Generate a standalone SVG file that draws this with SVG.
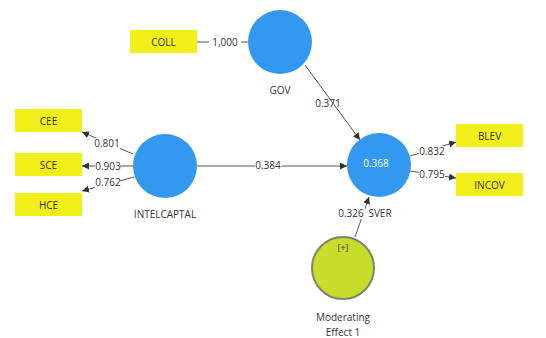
<svg xmlns="http://www.w3.org/2000/svg" width="546" height="338" viewBox="0 0 546 338">
<style>
.box{fill:#f2ee1a;}
.lv{fill:#3399f0;}
.t{font-family:"Open Sans","Liberation Sans",sans-serif;font-size:10px;fill:#333;text-anchor:middle;}
.lbl{font-family:"Open Sans","Liberation Sans",sans-serif;font-size:10px;fill:#333;text-anchor:middle;}
.ln{stroke:#555;stroke-width:1;fill:none;}
.bg{fill:#fff;}
</style>
<defs>
<marker id="ah" viewBox="0 0 10 10" refX="10" refY="5" markerWidth="7" markerHeight="7" orient="auto" markerUnits="userSpaceOnUse">
<path d="M0,0 L10,5 L0,10 z" fill="#333"/>
</marker>
</defs>
<rect width="546" height="338" fill="#fff"/>
<g id="connectors">
<line class="ln" x1="197" y1="42" x2="248" y2="42"/>
<rect class="bg" x="209" y="36" width="32" height="12"/>
<text class="lbl" x="225" y="46">1,000</text>
<line class="ln" x1="305" y1="65" x2="360" y2="140" marker-end="url(#ah)"/>
<text class="lbl" x="328" y="107">0.371</text>
<line class="ln" x1="133" y1="154" x2="82" y2="132" marker-end="url(#ah)"/>
<rect class="bg" x="95" y="138" width="25" height="11"/>
<text class="lbl" x="107" y="147">0.801</text>
<line class="ln" x1="133" y1="166" x2="82" y2="166" marker-end="url(#ah)"/>
<rect class="bg" x="95" y="161" width="25" height="11"/>
<text class="lbl" x="108" y="170">0.903</text>
<line class="ln" x1="134" y1="177" x2="82" y2="191" marker-end="url(#ah)"/>
<rect class="bg" x="95" y="177" width="25" height="11"/>
<text class="lbl" x="108" y="186">0.762</text>
<line class="ln" x1="197" y1="166" x2="347" y2="166" marker-end="url(#ah)"/>
<rect class="bg" x="255" y="160" width="27" height="11"/>
<text class="lbl" x="268" y="169">0.384</text>
<line class="ln" x1="410" y1="156" x2="456" y2="142" marker-end="url(#ah)"/>
<rect class="bg" x="419" y="146" width="26" height="11"/>
<text class="lbl" x="432" y="155">0.832</text>
<line class="ln" x1="410" y1="171" x2="456" y2="178" marker-end="url(#ah)"/>
<rect class="bg" x="419" y="169" width="26" height="11"/>
<text class="lbl" x="432" y="178">0.795</text>
<line class="ln" x1="355" y1="237" x2="369" y2="197" marker-end="url(#ah)"/>
<text class="lbl" x="380" y="217">SVER</text>
<rect class="bg" x="338" y="208" width="27" height="11"/>
<text class="lbl" x="351" y="217">0.326</text>
</g>
<g id="COLL"><rect class="box" x="130" y="30" width="67" height="23"/><text class="t" x="163.5" y="45.5">COLL</text></g>
<g id="CEE"><rect class="box" x="15" y="109" width="67" height="23"/><text class="t" x="48.5" y="124.5">CEE</text></g>
<g id="SCE"><rect class="box" x="15" y="153" width="67" height="23"/><text class="t" x="48.5" y="168.5">SCE</text></g>
<g id="HCE"><rect class="box" x="15" y="193" width="67" height="23"/><text class="t" x="48.5" y="208.5">HCE</text></g>
<g id="BLEV"><rect class="box" x="456" y="124" width="67" height="23"/><text class="t" x="489.5" y="139.5">BLEV</text></g>
<g id="INCOV"><rect class="box" x="456" y="173" width="67" height="23"/><text class="t" x="489.5" y="188.5">INCOV</text></g>
<g id="GOV"><circle class="lv" cx="280" cy="42" r="32"/><text class="t" x="280" y="94">GOV</text></g>
<g id="INTELCAPTAL"><circle class="lv" cx="165" cy="166" r="32"/><text class="t" x="165" y="218">INTELCAPTAL</text></g>
<g id="SVER"><circle class="lv" cx="379" cy="165" r="32"/><text class="t" x="376" y="167" style="fill:#fff">0.368</text></g>
<g id="ModeratingEffect1"><circle cx="343" cy="268" r="31" fill="#c8dc2a" stroke="#80826e" stroke-width="2"/><text class="t" x="343" y="251" style="font-size:9px">[+]</text><text class="t" x="343" y="321">Moderating</text><text class="t" x="343" y="336">Effect 1</text></g>
</svg>
